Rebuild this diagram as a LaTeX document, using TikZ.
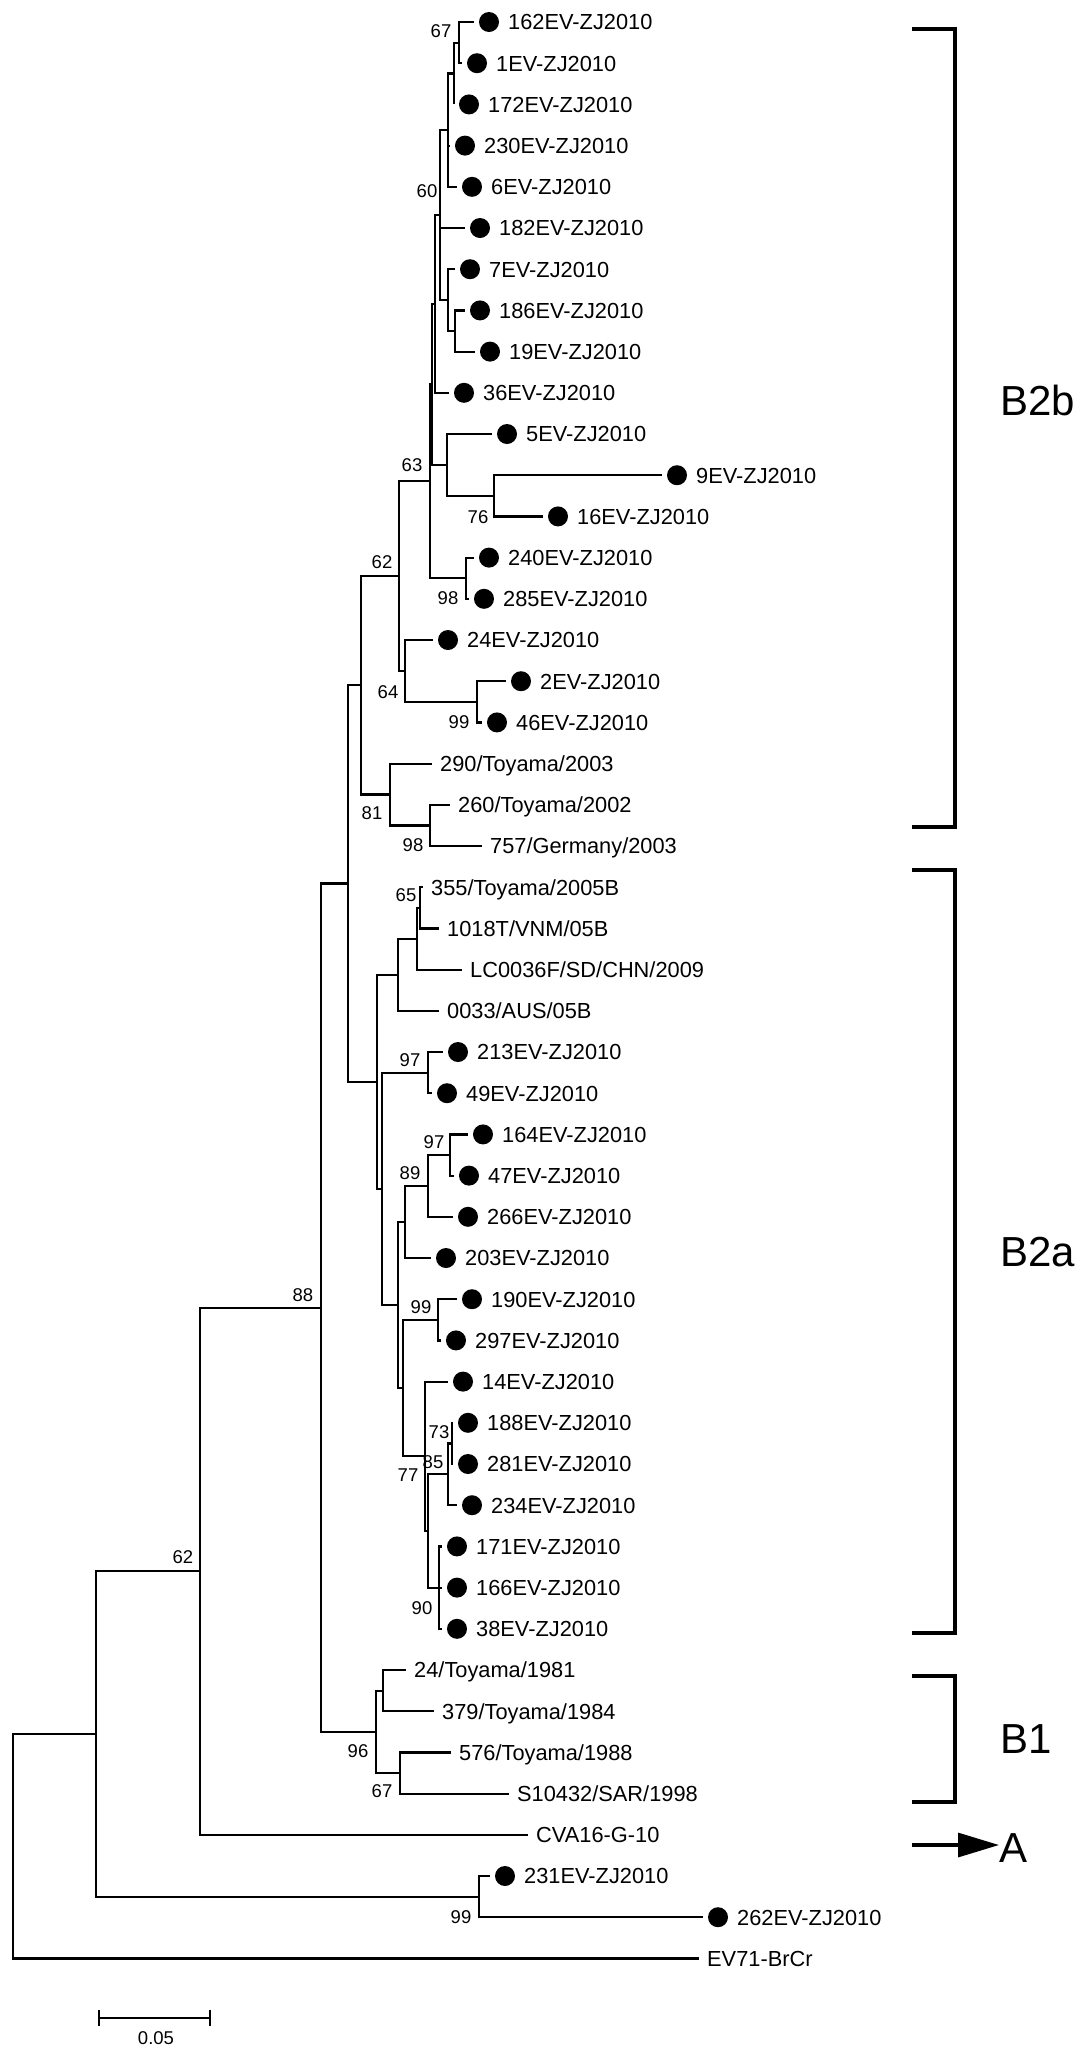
\documentclass[tikz,border=0pt]{standalone}
\usepackage{fontspec}
\setmainfont{Liberation Sans}
\usetikzlibrary{calc,arrows.meta}
\tikzset{
  br/.style={line width=2.2pt, line join=miter},
  dotn/.style={circle, fill=black, inner sep=0pt, minimum size=20pt},
  leaf/.style={anchor=base west, inner sep=0pt, yshift=-7.8pt, font=\fontsize{21.8}{24}\selectfont},
  boot/.style={anchor=center, inner sep=0pt, font=\fontsize{18.5}{20}\selectfont},
  clade/.style={anchor=west, inner sep=0pt, font=\fontsize{42}{46}\selectfont},
  brk/.style={line width=3.6pt, line join=miter},
}
\newcommand\tleafdot[4]{%
  \coordinate (#1) at (#3,{22+41.2*#2});
  \node[dotn] (#1d) at ($(#1)+(15,0)$) {};
  \node[leaf] (#1t) at ($(#1)+(34,0)$) {#4};}
\newcommand\tleafplain[4]{%
  \coordinate (#1) at (#3,{22+41.2*#2});
  \node[leaf] (#1t) at ($(#1)+(8,0)$) {#4};}
\newcommand\tinode[4]{\path let \p1=(#3), \p2=(#4) in coordinate (#1) at (#2pt,{0.5*(\y1+\y2)});}
\newcommand\tedges[2]{\foreach \c in {#2} {\draw[br] (#1) |- (\c);}}
\newcommand\tboot[3]{\node[boot] (#1) at (#2) {#3};}
\begin{document}
\begin{tikzpicture}[x=1pt,y=-1pt]
\useasboundingbox (0,0) rectangle (1087,2057);
% ---------- leaves B2b ----------
\tleafdot{l162}{0}{474}{162EV-ZJ2010}
\tleafdot{l1}{1}{462}{1EV-ZJ2010}
\tleafdot{l172}{2}{454}{172EV-ZJ2010}
\tleafdot{l230}{3}{450}{230EV-ZJ2010}
\tleafdot{l6}{4}{457}{6EV-ZJ2010}
\tleafdot{l182}{5}{465}{182EV-ZJ2010}
\tleafdot{l7}{6}{455}{7EV-ZJ2010}
\tleafdot{l186}{7}{465}{186EV-ZJ2010}
\tleafdot{l19}{8}{475}{19EV-ZJ2010}
\tleafdot{l36}{9}{449}{36EV-ZJ2010}
\tleafdot{l5}{10}{492}{5EV-ZJ2010}
\tleafdot{l9}{11}{662}{9EV-ZJ2010}
\tleafdot{l16}{12}{543}{16EV-ZJ2010}
\tleafdot{l240}{13}{474}{240EV-ZJ2010}
\tleafdot{l285}{14}{469}{285EV-ZJ2010}
\tleafdot{l24}{15}{433}{24EV-ZJ2010}
\tleafdot{l2}{16}{506}{2EV-ZJ2010}
\tleafdot{l46}{17}{482}{46EV-ZJ2010}
\tleafplain{l290}{18}{432}{290/Toyama/2003}
\tleafplain{l260}{19}{450}{260/Toyama/2002}
\tleafplain{l757}{20}{482}{757/Germany/2003}
% ---------- leaves B2a ----------
\tleafplain{l355}{21}{423}{355/Toyama/2005B}
\tleafplain{l1018}{22}{439}{1018T/VNM/05B}
\tleafplain{lLC}{23}{462}{LC0036F/SD/CHN/2009}
\tleafplain{l0033}{24}{439}{0033/AUS/05B}
\tleafdot{l213}{25}{443}{213EV-ZJ2010}
\tleafdot{l49}{26}{432}{49EV-ZJ2010}
\tleafdot{l164}{27}{468}{164EV-ZJ2010}
\tleafdot{l47}{28}{454}{47EV-ZJ2010}
\tleafdot{l266}{29}{453}{266EV-ZJ2010}
\tleafdot{l203}{30}{431}{203EV-ZJ2010}
\tleafdot{l190}{31}{457}{190EV-ZJ2010}
\tleafdot{l297}{32}{441}{297EV-ZJ2010}
\tleafdot{l14}{33}{448}{14EV-ZJ2010}
\tleafdot{l188}{34}{453}{188EV-ZJ2010}
\tleafdot{l281}{35}{453}{281EV-ZJ2010}
\tleafdot{l234}{36}{457}{234EV-ZJ2010}
\tleafdot{l171}{37}{442}{171EV-ZJ2010}
\tleafdot{l166}{38}{442}{166EV-ZJ2010}
\tleafdot{l38}{39}{442}{38EV-ZJ2010}
% ---------- B1, outgroups ----------
\tleafplain{l24T}{40}{406}{24/Toyama/1981}
\tleafplain{l379}{41}{434}{379/Toyama/1984}
\tleafplain{l576}{42}{451}{576/Toyama/1988}
\tleafplain{lS10}{43}{509}{S10432/SAR/1998}
\tleafplain{lCVA}{44}{528}{CVA16-G-10}
\tleafdot{l231}{45}{490}{231EV-ZJ2010}
\tleafdot{l262}{46}{703}{262EV-ZJ2010}
\tleafplain{lEV71}{47}{699}{EV71-BrCr}
% ---------- internal nodes B2b ----------
\tinode{n67}{459}{l162}{l1}
\tinode{nA}{454}{n67}{l172}
\tinode{nB}{448}{nA}{l6}
\tinode{nD}{455}{l186}{l19}
\tinode{nC}{448}{l7}{nD}
\tinode{n60}{440}{nB}{nC}
\tinode{nE}{435}{n60}{l36}
\tinode{n76}{494}{l9}{l16}
\tinode{n5}{447}{l5}{n76}
\tinode{nX}{432}{nE}{n5}
\tinode{n98a}{466}{l240}{l285}
\tinode{n63}{430}{nX}{n98a}
\tinode{n99a}{477}{l2}{l46}
\tinode{n64}{405}{l24}{n99a}
\tinode{n62a}{399}{n63}{n64}
\tinode{n98b}{430}{l260}{l757}
\tinode{n81}{390}{l290}{n98b}
\tinode{nB2b}{361}{n62a}{n81}
% ---------- internal nodes B2a ----------
\tinode{n65}{420}{l355}{l1018}
\tinode{n417}{417}{n65}{lLC}
\tinode{n398a}{398}{n417}{l0033}
\tinode{n97a}{428}{l213}{l49}
\tinode{n97b}{450}{l164}{l47}
\tinode{n89}{428}{n97b}{l266}
\tinode{n405}{405}{n89}{l203}
\tinode{n99c}{438}{l190}{l297}
\tinode{n73}{452}{l188}{l281}
\tinode{n448}{448}{n73}{l234}
\tinode{n90}{439}{l171}{l38}
\tinode{n85}{428}{n448}{n90}
\tinode{n77}{425}{l14}{n85}
\tinode{n403}{403}{n99c}{n77}
\tinode{n398b}{398}{n405}{n403}
\tinode{n382}{382}{n97a}{n398b}
\tinode{nB2a}{377}{n398a}{n382}
\tinode{nB2}{348}{nB2b}{nB2a}
% ---------- B1 and deeper ----------
\tinode{n383}{383}{l24T}{l379}
\tinode{n67b}{400}{l576}{lS10}
\tinode{n96}{376}{n383}{n67b}
\tinode{n88}{321}{nB2}{n96}
\tinode{n62b}{200}{n88}{lCVA}
\tinode{n99d}{479}{l231}{l262}
\tinode{n1}{96}{n62b}{n99d}
\tinode{root}{13}{n1}{lEV71}
% ---------- branches ----------
\tedges{n67}{l162,l1}
\tedges{nA}{n67,l172}
\tedges{nB}{nA,l230,l6}
\tedges{nD}{l186,l19}
\tedges{nC}{l7,nD}
\tedges{n60}{nB,l182,nC}
\tedges{nE}{n60,l36}
\tedges{n76}{l9,l16}
\tedges{n5}{l5,n76}
\tedges{nX}{nE,n5}
\tedges{n98a}{l240,l285}
\tedges{n63}{nX,n98a}
\tedges{n99a}{l2,l46}
\tedges{n64}{l24,n99a}
\tedges{n62a}{n63,n64}
\tedges{n98b}{l260,l757}
\tedges{n81}{l290,n98b}
\tedges{nB2b}{n62a,n81}
\tedges{n65}{l355,l1018}
\tedges{n417}{n65,lLC}
\tedges{n398a}{n417,l0033}
\tedges{n97a}{l213,l49}
\tedges{n97b}{l164,l47}
\tedges{n89}{n97b,l266}
\tedges{n405}{n89,l203}
\tedges{n99c}{l190,l297}
\tedges{n73}{l188,l281}
\tedges{n448}{n73,l234}
\tedges{n90}{l171,l166,l38}
\tedges{n85}{n448,n90}
\tedges{n77}{l14,n85}
\tedges{n403}{n99c,n77}
\tedges{n398b}{n405,n403}
\tedges{n382}{n97a,n398b}
\tedges{nB2a}{n398a,n382}
\tedges{nB2}{nB2b,nB2a}
\tedges{n383}{l24T,l379}
\tedges{n67b}{l576,lS10}
\tedges{n96}{n383,n67b}
\tedges{n88}{nB2,n96}
\tedges{n62b}{n88,lCVA}
\tedges{n99d}{l231,l262}
\tedges{n1}{n62b,n99d}
\tedges{root}{n1,lEV71}
% ---------- bootstrap values ----------
\tboot{b67a}{441,31}{67}
\tboot{b60}{427,191}{60}
\tboot{b63}{412,465}{63}
\tboot{b76}{478,517}{76}
\tboot{b62a}{382,562}{62}
\tboot{b98a}{448,598}{98}
\tboot{b64}{388,692}{64}
\tboot{b99a}{459,722}{99}
\tboot{b81}{372,813}{81}
\tboot{b98b}{413,845}{98}
\tboot{b65}{406,895}{65}
\tboot{b97a}{410,1060}{97}
\tboot{b97b}{434,1142}{97}
\tboot{b89}{410,1173}{89}
\tboot{b99c}{421,1307}{99}
\tboot{b73}{439,1432}{73}
\tboot{b85}{433,1462}{85}
\tboot{b77}{408,1475}{77}
\tboot{b90}{422,1608}{90}
\tboot{b88}{303,1295}{88}
\tboot{b62b}{183,1557}{62}
\tboot{b96}{358,1751}{96}
\tboot{b67b}{382,1791}{67}
\tboot{b99d}{461,1917}{99}
% ---------- scale bar ----------
\coordinate (sbL) at (99,2018);
\coordinate (sbR) at (210,2018);
\draw[line width=2.2pt] (sbL) -- (sbR);
\draw[line width=2.2pt] ($(sbL)+(0,-8)$) -- ($(sbL)+(0,8)$);
\draw[line width=2.2pt] ($(sbR)+(0,-8)$) -- ($(sbR)+(0,8)$);
\node[boot] (sblab) at (156,2038) {0.05};
% ---------- clade brackets ----------
\coordinate (k1a) at (912,29);   \coordinate (k1b) at (955,29);
\coordinate (k1c) at (955,827);  \coordinate (k1d) at (912,827);
\draw[brk] (k1a) -- (k1b) -- (k1c) -- (k1d);
\coordinate (k2a) at (912,870);  \coordinate (k2b) at (955,870);
\coordinate (k2c) at (955,1633); \coordinate (k2d) at (912,1633);
\draw[brk] (k2a) -- (k2b) -- (k2c) -- (k2d);
\coordinate (k3a) at (912,1676); \coordinate (k3b) at (955,1676);
\coordinate (k3c) at (955,1802); \coordinate (k3d) at (912,1802);
\draw[brk] (k3a) -- (k3b) -- (k3c) -- (k3d);
\node[clade] (cB2b) at (1000,400) {B2b};
\node[clade] (cB2a) at (1000,1252) {B2a};
\node[clade] (cB1) at (1000,1739) {B1};
\node[clade] (cA) at (999,1848) {A};
\coordinate (arS) at (912,1845);
\draw[line width=3.2pt, -{Triangle[length=41pt,width=24pt]}] (arS) -- (cA.west |- arS);
\end{tikzpicture}
\end{document}
